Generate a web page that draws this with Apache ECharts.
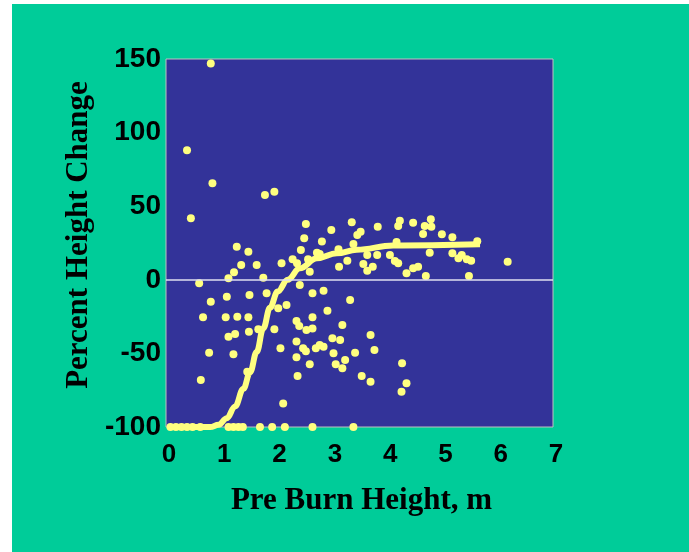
<!DOCTYPE html>
<html>
<head>
<meta charset="utf-8">
<script src="https://cdn.jsdelivr.net/npm/echarts@6/dist/echarts.min.js"></script>
<style>
html,body{margin:0;padding:0;background:#ffffff;width:689px;height:552px;overflow:hidden;}
#chart{position:absolute;left:12px;top:4px;width:677px;height:548px;}
</style>
</head>
<body>
<div id="chart"></div>
<script>
// Scatter observations: pre-burn height (m) and percent height change
const pointX = [
  0.81, 0.38, 0.84, 1.79, 1.96, 0.45,
  2.53, 2.99, 3.36, 3.46, 3.52, 2.50, 2.82, 3.83, 4.23, 4.20, 4.47, 4.79, 4.68, 4.80,
  4.65, 4.99, 5.18, 5.63, 3.39, 2.44, 2.73, 2.78, 3.12, 2.29, 2.57, 2.60, 2.37, 3.13,
  3.28, 3.57, 3.64, 3.74, 3.64, 3.82, 4.05, 4.14, 4.20, 4.17, 4.35, 4.47, 4.56, 4.70,
  4.77, 5.18, 5.29, 5.35, 5.44, 5.52, 6.18, 5.48, 2.09,
  1.28, 1.49, 1.36, 1.64, 1.23, 1.13, 1.76, 0.60,
  2.42, 2.85, 2.65, 1.51, 1.10, 0.81, 1.82, 2.18, 3.33, 2.92, 0.67, 1.08, 1.29, 1.49,
  2.36, 2.65, 1.96, 1.67, 1.50, 1.25, 1.13, 2.41, 2.54, 2.65, 3.19, 3.01, 3.15, 2.36,
  2.48, 2.71, 2.85, 2.78, 2.07, 0.78, 1.22, 3.03, 3.42, 2.36, 3.24, 2.60, 3.07, 3.19,
  1.47, 2.38, 0.63, 2.12, 3.70, 3.77, 3.54, 3.70, 4.27, 4.35, 4.26, 2.53, 2.03,
  0.08, 0.18, 0.28, 0.38, 0.48, 0.62, 1.13, 1.22, 1.31, 1.39, 1.70, 1.92, 2.15, 2.65, 3.39
];
const pointY = [
  147, 88, 65.6, 57.6, 59.9, 41.8,
  37.9, 33.8, 39.1, 30.4, 32.7, 28.2, 26, 36.1, 40.1, 36.5, 38.8, 41.1, 36.5, 36.1,
  31.1, 30.9, 28.9, 26.2, 24.3, 20.2, 18.4, 17.5, 20.7, 13.9, 13.9, 5.5, 11.2, 8.9,
  13, 10.7, 6.2, 8.9, 16.8, 16.8, 16.8, 12.8, 11.2, 25.7, 4.4, 7.8, 8.9, 2.6,
  18.4, 18.0, 14.6, 16.8, 13.9, 13, 12.3, 2.6, 11.2,
  22.5, 19.1, 10.1, 10.1, 5.1, 1.0, 1.4, -2.4,
  -3.5, -7.4, -9.2, -10.3, -11.5, -14.9, -9.2, -17.1, -13.7, -21, -25.5, -25.5, -25.1, -25.5,
  -28, -25.5, -33.6, -33.6, -35.3, -36.8, -38.7, -31.4, -34.1, -33, -30.7, -39.7, -40.9, -42,
  -46.5, -46.5, -45.4, -44.3, -46.5, -49.5, -50.6, -49.9, -49.5, -52.7, -54.5, -57.4, -57.4, -60.1,
  -62.4, -65.4, -68.1, -84, -37.5, -47.7, -65.4, -69.2, -56.7, -70.3, -76, -48.5, -19.4,
  -100, -100, -100, -100, -100, -100, -100, -100, -100, -100, -100, -100, -100, -100, -100
];
// Fitted response curve
const curveX = [0.07, 0.80, 0.95, 1.10, 1.25, 1.40, 1.52, 1.64, 1.76, 1.88, 2.02, 2.20, 2.42, 2.73, 3.09, 3.45, 4.11, 5.68];
const curveY = [-100, -100, -98.5, -94, -86, -74, -63, -49, -33, -19, -8, 0, 7.8, 14.6, 18.0, 20.4, 23.3, 24.1];

const xTicks = [0, 1, 2, 3, 4, 5, 6, 7];
const yTicks = [-100, -50, 0, 50, 100, 150];
const xTitle = 'Pre Burn Height, m';
const yTitle = 'Percent Height Change';

const yellow = '#FFFF80';
const chart = echarts.init(document.getElementById('chart'), null, {renderer: 'canvas'});
chart.setOption({
  backgroundColor: '#00CC99',
  animation: false,
  grid: {
    left: 154, top: 55, width: 387, height: 368,
    show: true, backgroundColor: '#333399', borderColor: '#C0C0C0', borderWidth: 1
  },
  xAxis: {
    type: 'value', min: xTicks[0], max: xTicks[xTicks.length - 1], interval: 1,
    name: xTitle, nameLocation: 'middle', nameGap: 58,
    nameTextStyle: {fontFamily: 'Liberation Serif', fontWeight: 'bold', fontSize: 31, color: '#000', padding: [0, 0, 0, 4]},
    axisLine: {show: false}, axisTick: {show: false}, splitLine: {show: false},
    axisLabel: {fontFamily: 'Liberation Sans', fontWeight: 'bold', fontSize: 26, color: '#000', margin: 15, padding: [0, 0, 0, 6]}
  },
  yAxis: {
    type: 'value', min: yTicks[0], max: yTicks[yTicks.length - 1], interval: 50,
    name: yTitle, nameLocation: 'middle', nameGap: 62,
    nameTextStyle: {fontFamily: 'Liberation Serif', fontWeight: 'bold', fontSize: 31, color: '#000', padding: [0, 0, 0, 16]},
    axisLine: {show: false}, axisTick: {show: false}, splitLine: {show: false},
    axisLabel: {fontFamily: 'Liberation Sans', fontWeight: 'bold', fontSize: 28, color: '#000', margin: 5}
  },
  series: [
    {
      type: 'scatter',
      data: pointX.map((x, i) => [x, pointY[i]]),
      symbol: 'circle', symbolSize: 8,
      itemStyle: {color: yellow, opacity: 1},
      markLine: {
        silent: true, symbol: 'none', label: {show: false},
        lineStyle: {color: '#E0E0F0', width: 1.5, type: 'solid', opacity: 1},
        data: [{yAxis: 0}]
      },
      z: 3
    },
    {
      type: 'line',
      data: curveX.map((x, i) => [x, curveY[i]]),
      showSymbol: false, smooth: 0.4, smoothMonotone: 'x',
      lineStyle: {color: yellow, width: 6, opacity: 1},
      z: 4
    }
  ]
});
</script>
</body>
</html>
